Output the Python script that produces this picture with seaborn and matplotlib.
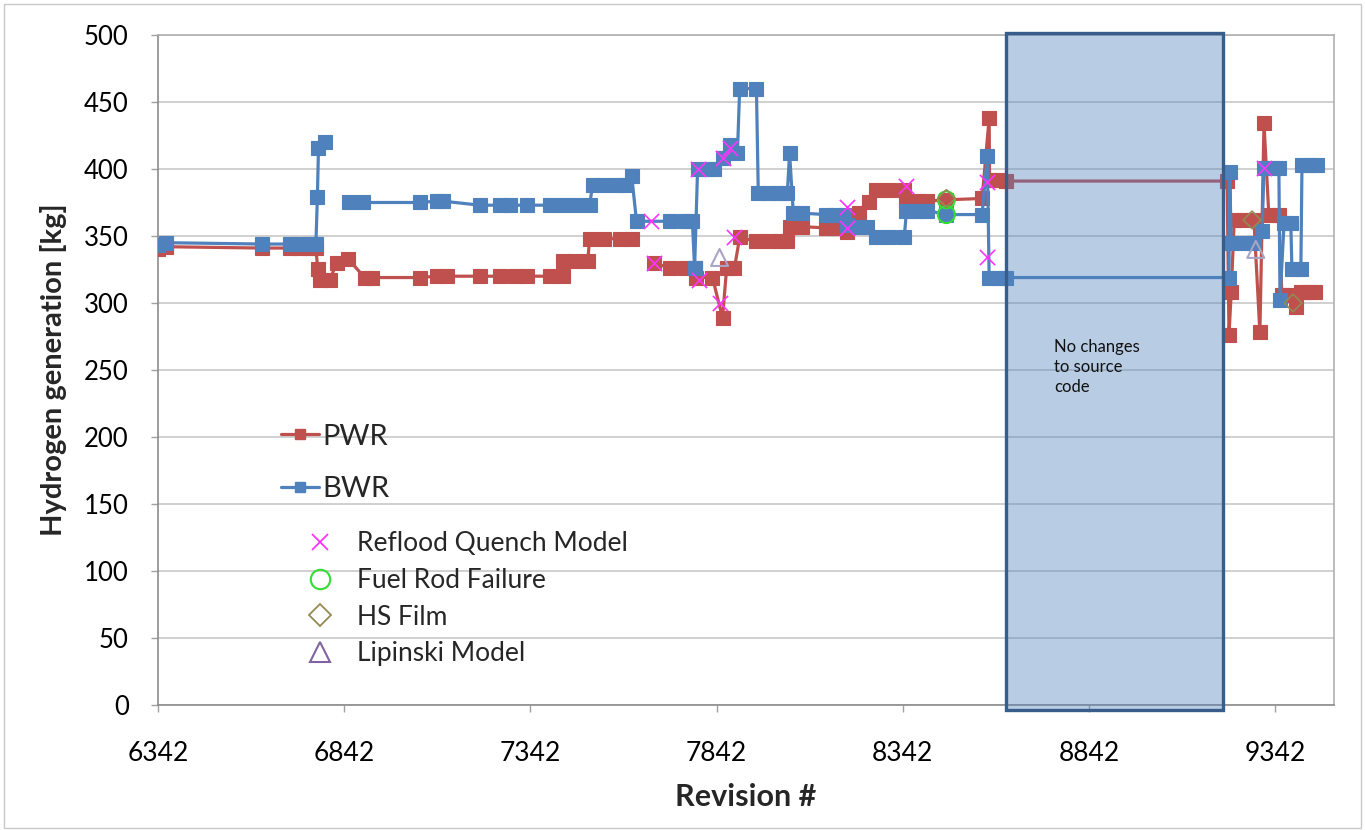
import numpy as np
import pandas as pd
import matplotlib
matplotlib.use("Agg")
import matplotlib.pyplot as plt
import seaborn as sns
from matplotlib.lines import Line2D
from matplotlib.patches import Rectangle

nan = np.nan

# ---------------- data ----------------
pwr_rev = [6342, 6363, 6621, 6696, 6723, 6750, 6766, 6771, 6777, 6803, 6822, 6852, 6897, 6916,
           7045, 7091, 7117, 7206, 7260, 7300, 7332, 7394, 7429, 7430, 7461, 7496, 7501, 7541,
           7582, 7614, nan, 7675, 7716, 7756, 7783, 7788, 7831, 7858, 7869, 7890, 7904, 7949,
           7984, 8011, 8032, 8038, 8072, 8137, 8164, 8191, 8225, 8252, 8271, 8306, 8346, 8352,
           8381, 8408, 8459, 8555, 8574, 8575, 8601, 8620, 9213, 9218, 9224, 9232, 9258, 9285,
           9301, 9312, 9325, 9352, 9360, 9379, 9398, 9411, 9433, 9449]
pwr_h2 = [340, 342, 341, 341, 341, 341, 341, 325, 317, 317, 330, 333, 319, 319,
          319, 320, 320, 320, 320, 320, 320, 320, 320, 331, 331, 331, 348, 348,
          348, 348, nan, 330, 326, 326, 326, 319, 319, 289, 326, 326, 349, 346,
          346, 346, 346, 357, 357, 356, 356, 353, 367, 375, 384, 384, 384, 376,
          376, 376, 377, 378, 438, 392, 392, 391, 391, 276, 308, 362, 362, 362,
          278, 434, 366, 366, 306, 306, 297, 308, 308, 308]

bwr_rev = [6342, 6363, 6621, 6696, 6723, 6750, 6766, 6770, 6773, 6790, nan, 6854, 6892, 7045,
           7091, 7107, 7206, 7260, 7286, 7332, 7394, 7429, 7466, 7501, 7509, 7541, 7574, 7600,
           7614, 7627, 7716, 7756, 7777, 7783, 7791, 7815, 7834, 7858, 7877, 7898, 7904, 7949,
           7954, 7984, 8011, 8032, 8038, 8048, 8072, 8137, 8164, 8185, 8191, 8225, 8247, 8271,
           8306, 8346, 8352, 8381, 8408, 8459, 8555, 8569, 8574, 8601, 8620, 9218, 9220, 9224,
           9258, 9285, 9307, 9312, 9339, 9352, 9355, 9366, 9384, 9387, 9411, 9414, 9433, 9454]
bwr_h2 = [343, 345, 344, 344, 344, 344, 344, 379, 416, 420, nan, 375, 375, 375,
          376, 376, 373, 373, 373, 373, 373, 373, 373, 373, 388, 388, 388, 388,
          395, 361, 361, 361, 361, 326, 400, 400, 400, 408, 418, 412, 460, 460,
          382, 382, 382, 382, 412, 367, 367, 366, 366, 366, 358, 357, 357, 349,
          349, 349, 369, 369, 369, 366, 366, 410, 319, 319, 319, 319, 398, 345,
          345, 345, 354, 401, 401, 401, 302, 360, 360, 325, 325, 403, 403, 403]

reflood_rev = [7667, 7675, 7791, 7796, 7850, 7858, 7877, 7890, 8191, 8191, 8352, 8569, 8569, 9312]
reflood_h2 = [361, 330, 400, 317, 300, 408, 416, 349, 372, 356, 387, 390, 334, 401]

fuel_rev = [8459, 8459]
fuel_h2 = [377, 366]

hsfilm_rev = [8459, 9280, 9390]
hsfilm_h2 = [378, 362, 300]

lipinski_rev = [7850, 9290]
lipinski_h2 = [334, 340]

xticks = [6342, 6842, 7342, 7842, 8342, 8842, 9342]
yticks = [0, 50, 100, 150, 200, 250, 300, 350, 400, 450, 500]

gap_start, gap_end = 8620, 9202

# ---------------- style ----------------
sns.set_theme(style="white")
plt.rcParams["font.family"] = ["Lato", "DejaVu Sans"]

RED = "#C0504D"
BLUE = "#4F81BD"

fig = plt.figure(figsize=(13.65, 8.3), dpi=100)
ax = fig.add_axes([158 / 1365, 1 - 705 / 830, (1334 - 158) / 1365, (705 - 35) / 830])


def to_frame(rev, val):
    rev = np.asarray(rev, float)
    val = np.asarray(val, float)
    seg = np.cumsum(np.isnan(rev))
    df = pd.DataFrame({"rev": rev, "h2": val, "seg": seg})
    return df.dropna()


pwr_df = to_frame(pwr_rev, pwr_h2)
bwr_df = to_frame(bwr_rev, bwr_h2)

for df, col, z in [(pwr_df, RED, 3), (bwr_df, BLUE, 4)]:
    sns.lineplot(data=df, x="rev", y="h2", units="seg", estimator=None, sort=False,
                 color=col, lw=2.3, marker="s", markersize=9.5, markeredgecolor=col,
                 markeredgewidth=0.8, ax=ax, zorder=z, legend=False)

sns.scatterplot(x=reflood_rev, y=reflood_h2, marker="x", s=120, color="#FF33FF",
                linewidth=1.2, ax=ax, zorder=6, legend=False)
sns.scatterplot(x=fuel_rev, y=fuel_h2, marker="o", s=150, facecolor="none",
                edgecolor="#33DD33", linewidth=1.5, ax=ax, zorder=6, legend=False)
sns.scatterplot(x=hsfilm_rev, y=hsfilm_h2, marker="D", s=80, facecolor="none",
                edgecolor="#948A54", linewidth=1.2, ax=ax, zorder=6, legend=False)
sns.scatterplot(x=lipinski_rev, y=lipinski_h2, marker="^", s=150, facecolor="none",
                edgecolor="#A9A4C4", linewidth=1.5, ax=ax, zorder=6, legend=False)

# "no changes" box
rect = Rectangle((gap_start, -3.5), gap_end - gap_start, 505, facecolor=BLUE, alpha=0.4,
                 edgecolor="none", zorder=7, clip_on=False)
ax.add_patch(rect)
rect2 = Rectangle((gap_start, -3.5), gap_end - gap_start, 505, facecolor="none",
                  edgecolor="#385D8A", lw=2.4, zorder=8, clip_on=False)
ax.add_patch(rect2)
ax.text(8748, 273, "No changes\nto source\ncode", fontsize=12, va="top", ha="left",
        color="#111111", linespacing=1.3, zorder=9)

# axes
ax.set_xlim(6342, 9500)
ax.set_ylim(0, 500)
ax.set_xticks(xticks)
ax.set_yticks(yticks)
ax.set_xticklabels([str(t) for t in xticks], fontsize=19)
ax.set_yticklabels([str(t) for t in yticks], fontsize=18.5)
ax.yaxis.grid(True, color="#C8C8C8", lw=1.2)
ax.xaxis.grid(False)
ax.set_axisbelow(True)
ax.tick_params(axis="both", which="major", direction="out", length=5, width=1,
               color="#A0A0A0", labelcolor="#000000")
ax.tick_params(axis="x", pad=21)
ax.tick_params(axis="y", pad=16)
ax.tick_params(bottom=True, left=True)
for side in ["left", "bottom"]:
    ax.spines[side].set_color("#8C8C8C")
    ax.spines[side].set_linewidth(1.2)
for side in ["right", "top"]:
    ax.spines[side].set_color("#B0B0B0")
    ax.spines[side].set_linewidth(1.2)
ax.set_xlabel("Revision #", fontsize=22, fontweight="bold", labelpad=12)
ax.set_ylabel("Hydrogen generation [kg]", fontsize=21, fontweight="bold", labelpad=12)

# legends
h1 = [Line2D([], [], color=RED, lw=2.3, marker="s", markersize=7.5),
      Line2D([], [], color=BLUE, lw=2.3, marker="s", markersize=7.5)]
leg1 = ax.legend(h1, ["PWR", "BWR"], loc="upper left", bbox_to_anchor=(0.105, 0.42),
                 frameon=False, fontsize=21, handlelength=1.3, handletextpad=0.1,
                 labelspacing=0.9, borderpad=0, borderaxespad=0)
ax.add_artist(leg1)
h2 = [Line2D([], [], ls="none", marker="x", markersize=11, color="#FF33FF", mew=1.3),
      Line2D([], [], ls="none", marker="o", markersize=14, mfc="none", mec="#33DD33", mew=1.5),
      Line2D([], [], ls="none", marker="D", markersize=11, mfc="none", mec="#948A54", mew=1.3),
      Line2D([], [], ls="none", marker="^", markersize=14, mfc="none", mec="#8064A2", mew=1.5)]
ax.legend(h2, ["Reflood Quench Model", "Fuel Rod Failure", "HS Film", "Lipinski Model"],
          loc="upper left", bbox_to_anchor=(0.124, 0.259), frameon=False, fontsize=19,
          handlelength=1.2, handletextpad=0.8, labelspacing=0.44, borderpad=0, borderaxespad=0)

# figure frame
fig.patches.append(Rectangle((0.003, 0.003), 0.994, 0.992, transform=fig.transFigure,
                             facecolor="none", edgecolor="#C8C8C8", lw=1))

fig.savefig("out.png", dpi=100)
